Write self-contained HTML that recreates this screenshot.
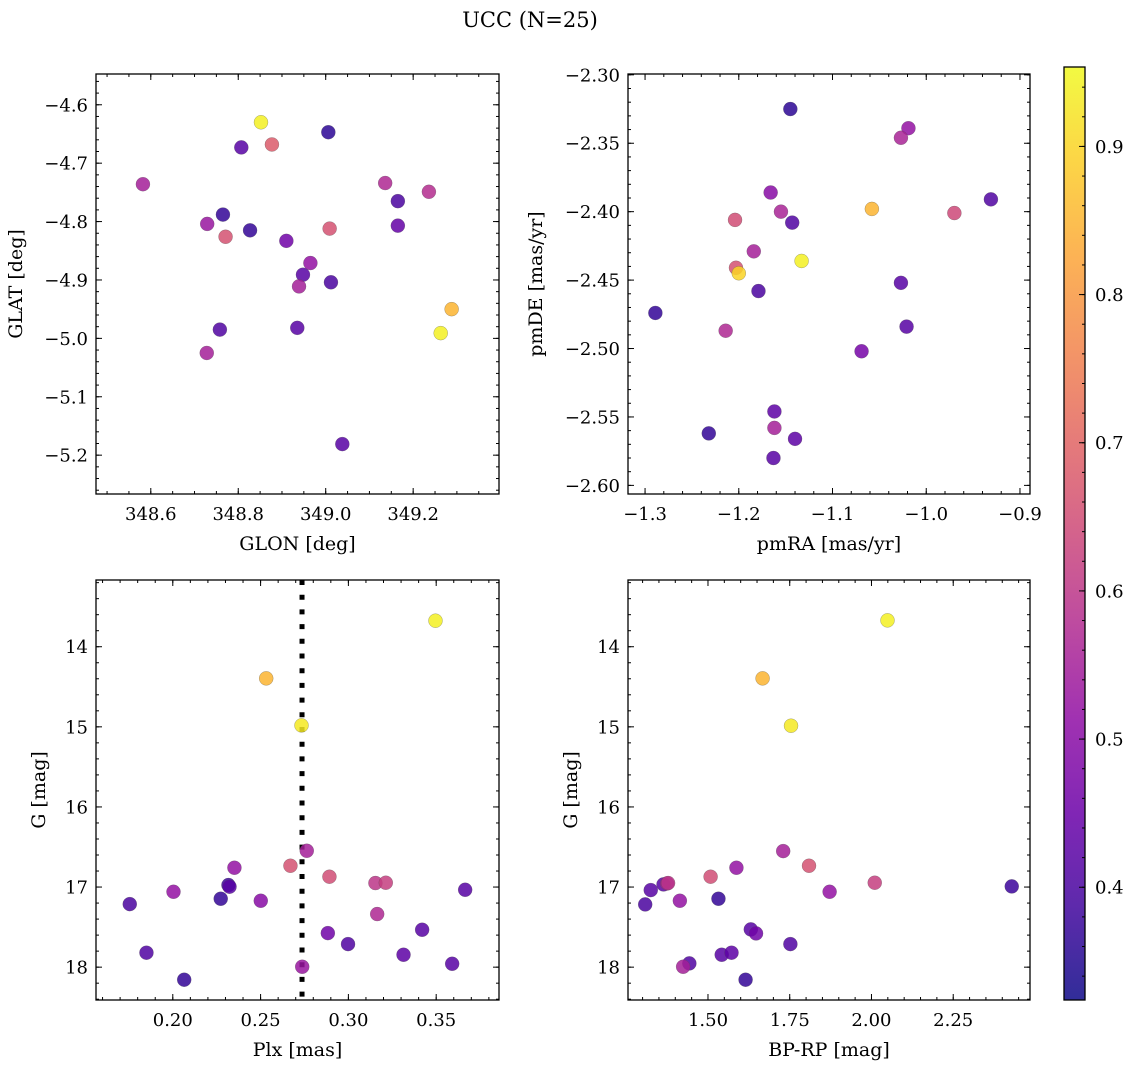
<!DOCTYPE html>
<html><head><meta charset="utf-8"><style>
html,body{margin:0;padding:0;background:#fff;}
svg{display:block;font-family:"DejaVu Serif","Liberation Serif",serif;}
</style></head><body>
<svg id="fig" width="1136" height="1067" viewBox="0 0 1136 1067" xmlns="http://www.w3.org/2000/svg">
<text x="530" y="27" font-size="21" text-anchor="middle">UCC (N=25)</text>
</svg>
<script>
// ---- data: panel 1 (GLON vs GLAT) ----
const glon1 = [348.852,349.006,348.807,348.877,348.582,349.136,349.236,349.165,348.765,348.729,348.827,349.009,348.771,348.910,348.965,348.948,348.939,349.012,349.165,349.288,349.263,348.758,348.935,348.728,349.038];
const glat1 = [-4.630,-4.647,-4.673,-4.668,-4.736,-4.734,-4.749,-4.765,-4.788,-4.804,-4.815,-4.812,-4.826,-4.833,-4.871,-4.891,-4.911,-4.904,-4.807,-4.950,-4.991,-4.985,-4.982,-5.025,-5.181];
const prob1 = [0.94,0.36,0.42,0.68,0.55,0.57,0.58,0.40,0.37,0.53,0.37,0.66,0.66,0.46,0.52,0.42,0.55,0.40,0.44,0.85,0.94,0.41,0.42,0.55,0.42];
// ---- panel 2 (pmRA vs pmDE) ----
const pmra2 = [-1.145,-1.019,-1.027,-1.166,-0.931,-1.058,-0.970,-1.155,-1.204,-1.143,-1.184,-1.133,-1.203,-1.200,-1.179,-1.027,-1.289,-1.214,-1.021,-1.069,-1.162,-1.232,-1.162,-1.140,-1.163];
const pmde2 = [-2.325,-2.339,-2.346,-2.386,-2.391,-2.398,-2.401,-2.400,-2.406,-2.408,-2.429,-2.436,-2.441,-2.445,-2.458,-2.452,-2.474,-2.487,-2.484,-2.502,-2.546,-2.562,-2.558,-2.566,-2.580];
const prob2 = [0.36,0.52,0.56,0.50,0.41,0.85,0.64,0.56,0.65,0.41,0.55,0.94,0.66,0.90,0.40,0.42,0.37,0.57,0.42,0.47,0.43,0.37,0.55,0.43,0.42];
// ---- panel 3 (Plx vs G) ----
const plx3 = [0.3496,0.2532,0.2733,0.2763,0.2670,0.2351,0.2892,0.3154,0.3213,0.2317,0.2323,0.2004,0.3665,0.2273,0.2501,0.1755,0.3164,0.2883,0.3420,0.2998,0.1850,0.3314,0.3591,0.2737,0.2065];
const g3 = [13.675,14.395,14.982,16.547,16.734,16.759,16.871,16.950,16.946,16.975,16.996,17.059,17.034,17.146,17.171,17.213,17.337,17.575,17.533,17.712,17.820,17.845,17.958,17.995,18.157];
const prob3 = [0.94,0.85,0.93,0.55,0.66,0.52,0.65,0.60,0.62,0.38,0.42,0.52,0.42,0.37,0.50,0.40,0.57,0.46,0.42,0.41,0.41,0.43,0.42,0.53,0.37];
const plxRef = [0.2736];
// ---- panel 4 (BP-RP vs G) ----
const bprp4 = [2.049,1.667,1.754,1.730,1.809,1.587,1.508,2.010,1.378,1.375,1.364,1.872,2.429,1.325,1.532,1.414,1.308,1.631,1.647,1.752,1.572,1.542,1.443,1.424,1.615];
const g4 = [13.671,14.395,14.986,16.551,16.734,16.759,16.871,16.946,16.950,16.955,16.967,17.059,16.992,17.038,17.146,17.171,17.217,17.529,17.579,17.712,17.820,17.845,17.953,17.995,18.157];
const prob4 = [0.94,0.85,0.93,0.55,0.66,0.52,0.65,0.62,0.60,0.55,0.42,0.52,0.38,0.42,0.37,0.52,0.40,0.42,0.46,0.41,0.43,0.42,0.41,0.55,0.37];
// ---- colorbar ----
const cbTicks = [0.4,0.5,0.6,0.7,0.8,0.9];
const cbRange = [0.3239,0.9536];

const NS="http://www.w3.org/2000/svg";
const svg=document.getElementById('fig');
function mk(tag,attrs,parent){const e=document.createElementNS(NS,tag);for(const k in attrs)e.setAttribute(k,attrs[k]);(parent||svg).appendChild(e);return e;}
const stops=[[0,[13,8,135]],[0.1,[65,4,157]],[0.2,[106,0,168]],[0.3,[143,13,164]],[0.4,[177,42,144]],[0.5,[204,71,120]],[0.6,[225,100,98]],[0.7,[242,132,75]],[0.8,[252,166,54]],[0.9,[252,206,37]],[1,[240,249,33]]];
function plasma(t){t=Math.max(0,Math.min(1,t));for(let i=1;i<stops.length;i++){if(t<=stops[i][0]){const a=stops[i-1],b=stops[i];const f=(t-a[0])/(b[0]-a[0]);const c=a[1].map((v,j)=>Math.round(v+(b[1][j]-v)*f));return `rgb(${c[0]},${c[1]},${c[2]})`;}}return 'rgb(240,249,33)';}
function cnorm(v){return (v-cbRange[0])/(cbRange[1]-cbRange[0]);}
function fmt(v,d){const s=Math.abs(v).toFixed(d);return (v<0?'\u2212':'')+s;}

function panel(name,box,xd,yd,xt,yt,xminor,yminor,xdec,ydec,xlab,ylab,ylabX,invertY){
  const [L,T,R,B]=box;
  const sx=v=>L+(v-xd[0])/(xd[1]-xd[0])*(R-L);
  const sy=invertY? v=>T+(v-yd[0])/(yd[1]-yd[0])*(B-T) : v=>B-(v-yd[0])/(yd[1]-yd[0])*(B-T);
  const g=mk('g',{});
  
  
  const ticks=mk('g',{stroke:'#000','stroke-width':1},g);
  
  
  const lo=Math.min(xd[0],xd[1]),hi=Math.max(xd[0],xd[1]);
  for(let v=Math.ceil(lo/xminor-1e-6)*xminor;v<=hi+1e-9;v+=xminor){const x=sx(v);mk('line',{x1:x,x2:x,y1:B,y2:B-3},ticks);mk('line',{x1:x,x2:x,y1:T,y2:T+3},ticks);}
  const ylo=Math.min(yd[0],yd[1]),yhi=Math.max(yd[0],yd[1]);
  for(let v=Math.ceil(ylo/yminor-1e-6)*yminor;v<=yhi+1e-9;v+=yminor){const y=sy(v);mk('line',{x1:L,x2:L+3,y1:y,y2:y},ticks);mk('line',{x1:R,x2:R-3,y1:y,y2:y},ticks);}
  xt.forEach(v=>{const x=sx(v);mk('line',{x1:x,x2:x,y1:B,y2:B-6},ticks);mk('line',{x1:x,x2:x,y1:T,y2:T+6},ticks);
    const t=mk('text',{x:x,y:B+26,'font-size':18,'text-anchor':'middle'},g);t.textContent=fmt(v,xdec);
    
    });
  yt.forEach(v=>{const y=sy(v);mk('line',{x1:L,x2:L+6,y1:y,y2:y},ticks);mk('line',{x1:R,x2:R-6,y1:y,y2:y},ticks);
    const t=mk('text',{x:L-8,y:y+6.5,'font-size':18,'text-anchor':'end'},g);t.textContent=fmt(v,ydec);
    
    });
  const xl=mk('text',{x:(L+R)/2,y:B+56,'font-size':19,'text-anchor':'middle'},g);xl.textContent=xlab;
  
  
  const yl=mk('text',{x:ylabX,y:(T+B)/2,'font-size':19,'text-anchor':'middle',transform:`rotate(-90 ${ylabX} ${(T+B)/2})`},g);yl.textContent=ylab;
  
  
  const fr=mk('rect',{x:L,y:T,width:R-L,height:B-T,fill:'none',stroke:'#000','stroke-width':1.3},g);
  
  
  return {sx,sy,g};
}
function scatter(p,name,xs,ys,cs){
  const grp=mk('g',{},p.g);
  
  
  const idx=xs.map((_,i)=>i).sort((a,b)=>cs[a]-cs[b]);
  idx.forEach(i=>{const c=mk('circle',{cx:p.sx(xs[i]),cy:p.sy(ys[i]),r:7,fill:plasma(cnorm(cs[i])),'fill-opacity':0.85,stroke:'rgba(80,80,80,0.5)','stroke-width':0.5},grp);
    
    });
}

const p1=panel('glon-glat',[96,74,499,494],[348.4747,349.3963],[-5.2665,-4.5473],[348.6,348.8,349.0,349.2],[-5.2,-5.1,-5.0,-4.9,-4.8,-4.7,-4.6],0.05,0.02,1,1,'GLON [deg]','GLAT [deg]',22,false);
scatter(p1,'glon-glat',glon1,glat1,prob1);
const p2=panel('pm',[628,74,1030,494],[-1.3182,-0.8893],[-2.6063,-2.2994],[-1.3,-1.2,-1.1,-1.0,-0.9],[-2.60,-2.55,-2.50,-2.45,-2.40,-2.35,-2.30],0.02,0.01,1,2,'pmRA [mas/yr]','pmDE [mas/yr]',542,false);
scatter(p2,'pm',pmra2,pmde2,prob2);
const p3=panel('plx-g',[96,580,499,1000],[0.15627,0.38577],[13.167,18.41],[0.20,0.25,0.30,0.35],[14,15,16,17,18],0.01,0.2,2,0,'Plx [mas]','G [mag]',45,true);
const dl=mk('line',{x1:p3.sx(plxRef[0]),x2:p3.sx(plxRef[0]),y1:580,y2:1000,stroke:'#000','stroke-width':5,'stroke-dasharray':'5 9.7'},p3.g);


scatter(p3,'plx-g',plx3,g3,prob3);
const p4=panel('cmd',[628,580,1030,1000],[1.2554,2.4848],[13.167,18.41],[1.50,1.75,2.00,2.25],[14,15,16,17,18],0.05,0.2,2,0,'BP-RP [mag]','G [mag]',577,true);
scatter(p4,'cmd',bprp4,g4,prob4);

// colorbar
const cb=mk('g',{});


const CL=1064,CR=1085,CT=67,CB=1000;
const defs=mk('defs',{},cb);
const lg=mk('linearGradient',{id:'cbg',x1:0,y1:1,x2:0,y2:0},defs);
for(let i=0;i<=20;i++){mk('stop',{offset:i/20,'stop-color':plasma(i/20),'stop-opacity':0.85},lg);}
mk('rect',{x:CL,y:CT,width:CR-CL,height:CB-CT,fill:'url(#cbg)',stroke:'#000','stroke-width':1.3},cb);
const cy=v=>CB-(v-cbRange[0])/(cbRange[1]-cbRange[0])*(CB-CT);
for(let v=0.34;v<=0.95;v+=0.02){mk('line',{x1:CR,x2:CR-3,y1:cy(v),y2:cy(v),stroke:'#000'},cb);}
cbTicks.forEach(v=>{mk('line',{x1:CR,x2:CR-6,y1:cy(v),y2:cy(v),stroke:'#000'},cb);
  const t=mk('text',{x:CR+10,y:cy(v)+6.5,'font-size':18},cb);t.textContent=v.toFixed(1);
  
  });
</script>
</body></html>
